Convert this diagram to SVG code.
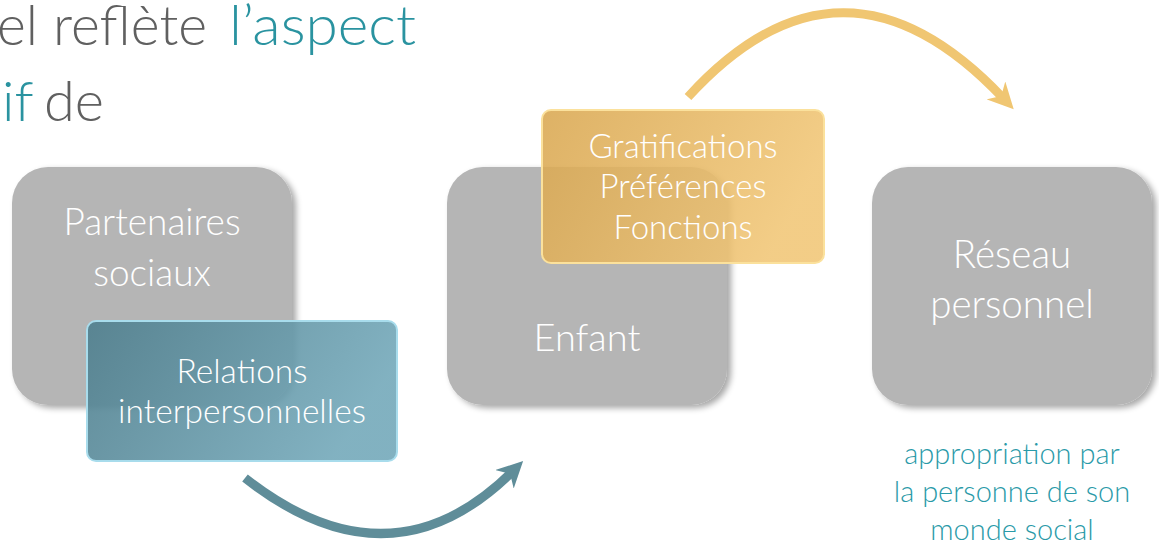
<svg xmlns="http://www.w3.org/2000/svg" width="1159" height="546" viewBox="0 0 1159 546">
<style>
.title{font-family:Lato,"Open Sans","Liberation Sans",sans-serif;font-weight:300;font-size:56px;fill:#606060}
.hl{fill:#2a93a0}
.nt{font-family:Lato,"Open Sans","Liberation Sans",sans-serif;font-weight:300;fill:#ffffff;text-anchor:middle}
.note{font-family:Lato,"Open Sans","Liberation Sans",sans-serif;font-weight:300;font-size:29px;fill:#2a9aa8;text-anchor:middle}
.gray{fill:#b5b5b5;filter:url(#sh)}
</style>
<defs>
<filter id="sh" x="-10%" y="-10%" width="125%" height="125%">
<feGaussianBlur in="SourceAlpha" stdDeviation="3"/>
<feOffset dx="4" dy="3"/>
<feComponentTransfer><feFuncA type="linear" slope="0.35"/></feComponentTransfer>
<feMerge><feMergeNode/><feMergeNode in="SourceGraphic"/></feMerge>
</filter>
<linearGradient id="tg" x1="0" y1="0" x2="1" y2="0.3">
<stop offset="0" stop-color="#4f7f8e"/>
<stop offset="1" stop-color="#74a9ba"/>
</linearGradient>
<linearGradient id="gg" x1="0" y1="0" x2="1" y2="0.3">
<stop offset="0" stop-color="#d9a750"/>
<stop offset="1" stop-color="#f1c676"/>
</linearGradient>
<marker id="ta" viewBox="0 0 10 10" refX="4" refY="5" markerWidth="26" markerHeight="26" markerUnits="userSpaceOnUse" orient="auto">
<path d="M0,0 L10,5 L0,10 L3,5 Z" fill="#5f8d99"/>
</marker>
<marker id="ga" viewBox="0 0 10 10" refX="4" refY="5" markerWidth="26" markerHeight="26" markerUnits="userSpaceOnUse" orient="auto">
<path d="M0,0 L10,5 L0,10 L3,5 Z" fill="#f0c672"/>
</marker>
</defs>
<text class="title" x="-3" y="45" textLength="210" lengthAdjust="spacingAndGlyphs">el reflète</text>
<text class="title hl" x="229" y="45" textLength="187" lengthAdjust="spacingAndGlyphs">l’aspect</text>
<text class="title hl" x="2" y="121">if</text>
<text class="title" x="44" y="121">de</text>
<g id="node-partenaires">
<rect class="gray" x="12" y="167" width="280" height="238" rx="36"/>
<text class="nt" font-size="37" x="152" y="235">Partenaires</text>
<text class="nt" font-size="37" x="152" y="286">sociaux</text>
</g>
<g id="node-enfant">
<rect class="gray" x="447" y="167" width="280" height="238" rx="36"/>
<text class="nt" font-size="38" x="587" y="351">Enfant</text>
</g>
<g id="node-reseau">
<rect class="gray" x="872" y="167" width="280" height="238" rx="36"/>
<text class="nt" font-size="38.5" x="1012" y="268">Réseau</text>
<text class="nt" font-size="38.5" x="1012" y="318">personnel</text>
</g>
<g id="node-relations">
<rect x="87" y="321" width="310" height="140" rx="9" fill="url(#tg)" fill-opacity="0.9" stroke="#a8dcec" stroke-width="2"/>
<text class="nt" font-size="33.5" x="242" y="383">Relations</text>
<text class="nt" font-size="33.5" x="242" y="423">interpersonnelles</text>
</g>
<g id="node-gratifications">
<rect x="542" y="110" width="282" height="153" rx="9" fill="url(#gg)" fill-opacity="0.88" stroke="#fbe19c" stroke-width="2"/>
<text class="nt" font-size="33" x="683" y="158">Gratifications</text>
<text class="nt" font-size="33" x="683" y="198">Préférences</text>
<text class="nt" font-size="33" x="683" y="239">Fonctions</text>
</g>
<g id="note">
<text class="note" x="1012" y="464">appropriation par</text>
<text class="note" x="1012" y="502">la personne de son</text>
<text class="note" x="1012" y="540">monde social</text>
</g>
<g id="connectors">
<path d="M245,478 Q390,592 512,472" fill="none" stroke="#5f8d99" stroke-width="9" marker-end="url(#ta)"/>
<path d="M688,97 Q842,-72 1003,98" fill="none" stroke="#f0c672" stroke-width="9" marker-end="url(#ga)"/>
</g>
</svg>
